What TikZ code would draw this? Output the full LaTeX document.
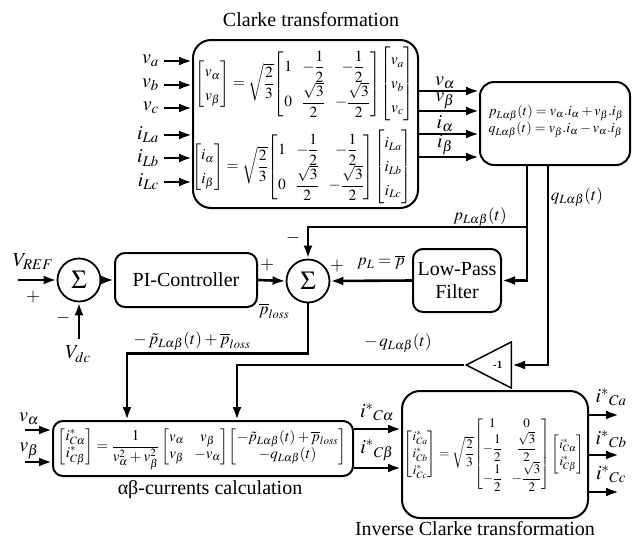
\documentclass[tikz,border=0pt]{standalone}
\usepackage{amsmath}
\usepackage{mathptmx}
\usepackage{fontspec}
\setmainfont{Liberation Serif}
\usetikzlibrary{arrows.meta,shapes.geometric}

\begin{document}
\begin{tikzpicture}[x=1pt,y=-1pt,line join=miter,
  every node/.style={font=\fontsize{20}{23}\selectfont,inner sep=1pt},
  blk/.style={draw,line width=2pt,rounded corners=18pt,inner sep=0pt},
  sumnode/.style={draw,circle,line width=1.8pt,minimum size=43pt,inner sep=0pt,font=\fontsize{26}{28}\selectfont},
  sig/.style={line width=2.6pt,-{Latex[length=13pt,width=9pt]}},
  eqn/.style={font=\fontsize{15.5}{17}\selectfont,inner sep=0pt},
  lbl/.style={font=\fontsize{17}{20}\selectfont},
  sgn/.style={font=\fontsize{18}{20}\selectfont}]
  \useasboundingbox (0,0) rectangle (632,542);

  \node[blk,minimum width=225pt,minimum height=168pt] (clarke) at (305.5,124) {};
  \node (clarketitle) at (311,20) {Clarke transformation};
  \node[eqn] (clarkev) at (305,84) {$\def\arraystretch{1.4}\begin{bmatrix} v_{\alpha}\\ v_{\beta}\end{bmatrix}=\sqrt{\dfrac{2}{3}}{\def\arraystretch{0.95}\begin{bmatrix}1 & -\dfrac{1}{2} & -\dfrac{1}{2}\\ 0 & \dfrac{\sqrt{3}}{2} & -\dfrac{\sqrt{3}}{2}\end{bmatrix}}\!\begin{bmatrix}v_a\\ v_b\\ v_c\end{bmatrix}$};
  \node[eqn] (clarkei) at (302,167) {$\def\arraystretch{1.4}\begin{bmatrix} i_{\alpha}\\ i_{\beta}\end{bmatrix}=\sqrt{\dfrac{2}{3}}{\def\arraystretch{0.95}\begin{bmatrix}1 & -\dfrac{1}{2} & -\dfrac{1}{2}\\ 0 & \dfrac{\sqrt{3}}{2} & -\dfrac{\sqrt{3}}{2}\end{bmatrix}}\!\begin{bmatrix}i_{La}\\ i_{Lb}\\ i_{Lc}\end{bmatrix}$};

  \foreach \nm/\lab/\yy in {va/v_a/61,vb/v_b/85,vc/v_c/108,ila/i_{La}/135,ilb/i_{Lb}/158,ilc/i_{Lc}/182}{
    \coordinate (\nm) at (164,\yy);
    \node[left=4pt] (\nm lbl) at (\nm) {$\lab$};
    \draw[sig] (\nm) -- (\nm -| clarke.west);
  }

  \node[blk,minimum width=150pt,minimum height=83pt,rounded corners=14pt] (power) at (555,123.5) {};
  \node[eqn,align=left,font=\fontsize{14}{16}\selectfont] (powereq) at (556,121) {$p_{L\alpha\beta}(t)=v_{\alpha}.i_{\alpha}+v_{\beta}.i_{\beta}$\\[1pt] $q_{L\alpha\beta}(t)=v_{\beta}.i_{\alpha}-v_{\alpha}.i_{\beta}$};

  \foreach \nm/\lab/\yy in {ova/v_{\alpha}/91,ovb/v_{\beta}/111,oia/i_{\alpha}/134,oib/i_{\beta}/157}{
    \coordinate (\nm) at (clarke.east |- 0,\yy);
    \draw[sig] (\nm) -- (\nm -| power.west);
    \node[anchor=south] (\nm lbl) at (445,\yy-1) {$\lab$};
  }

  \node[sumnode] (sum1) at (79,280) {$\Sigma$};
  \node[blk,minimum width=142pt,minimum height=54pt,rounded corners=10pt] (pi) at (186,280) {PI-Controller};
  \node[sumnode] (sum2) at (308,281) {$\Sigma$};
  \node[blk,minimum width=88pt,minimum height=63pt,rounded corners=10pt,align=center] (lpf) at (457,280.5) {Low-Pass\\Filter};

  \coordinate (vref) at (18,280);
  \coordinate (vdc) at (79,339);
  \draw[sig] (vref) -- (sum1.west);
  \draw[sig] (vdc) -- (sum1.south);
  \draw[sig] (sum1.east) -- (pi.west);
  \draw[sig] (pi.east) -- (sum2.west);
  \draw[sig] (lpf.west) -- (sum2.east);
  \node (vreflbl) at (33,262) {$V_{REF}$};
  \node (vdclbl) at (78,354) {$V_{dc}$};
  \node[sgn] (sum1p) at (33,297) {$+$};
  \node[sgn] (sum1m) at (63,318) {$-$};
  \node[sgn] (sum2p1) at (267,265) {$+$};
  \node[lbl] (plosslbl) at (274,311) {$\overline{p}_{loss}$};
  \node[sgn] (sum2m) at (293,238) {$-$};
  \node[sgn] (sum2p2) at (337,266) {$+$};
  \node[lbl] (pllbl) at (381,262) {$p_{L}=\overline{p}$};

  \coordinate (pout) at (power.south -| 527,0);
  \coordinate (qout) at (power.south -| 548,0);
  \coordinate (pbranch) at (527,227);
  \draw[sig] (pout) |- (lpf.east);
  \draw[sig] (pbranch) -| (sum2.north);
  \node[lbl,anchor=south] (plbl) at (480,228) {$p_{L\alpha\beta}(t)$};
  \node[lbl] (qlbl) at (577,197) {$q_{L\alpha\beta}(t)$};

  \node[draw,isosceles triangle,shape border rotate=180,isosceles triangle stretches,minimum width=46pt,minimum height=45pt,inner sep=0pt,line width=1.5pt,anchor=lower side,font=\fontsize{11}{12}\bfseries] (gain) at (512,365) {-1};
  \draw[sig] (qout) |- (gain.lower side);

  \node[blk,minimum width=300pt,minimum height=55pt,rounded corners=10pt] (ab) at (203,448.5) {};
  \node[eqn,font=\fontsize{15}{17}\selectfont] (abeq) at (202,449) {$\begin{bmatrix} i^{*}_{C\alpha}\\ i^{*}_{C\beta}\end{bmatrix}=\dfrac{1}{v_{\alpha}^{2}+v_{\beta}^{2}}\begin{bmatrix}v_{\alpha} & v_{\beta}\\ v_{\beta} & -v_{\alpha}\end{bmatrix}\!\begin{bmatrix}-\tilde{p}_{L\alpha\beta}(t)+\overline{p}_{loss}\\ -q_{L\alpha\beta}(t)\end{bmatrix}$};
  \node (abtitle) at (210,490) {αβ-currents calculation};

  \coordinate (pin) at (ab.north -| 127,0);
  \coordinate (qin) at (ab.north -| 237,0);
  \draw[sig] (sum2.south) -- ++(0,50) -| (pin);
  \node[lbl] (pinlbl) at (192,341) {$-\,\tilde{p}_{L\alpha\beta}(t)+\overline{p}_{loss}$};
  \draw[sig] (gain.apex) -| (qin);
  \node[lbl] (qinlbl) at (398,343) {$-\,q_{L\alpha\beta}(t)$};

  \coordinate (abva) at (25,430);
  \coordinate (abvb) at (25,462);
  \draw[sig] (abva) -- (abva -| ab.west);
  \draw[sig] (abvb) -- (abvb -| ab.west);
  \node (abvalbl) at (29,419) {$v_{\alpha}$};
  \node (abvblbl) at (29,451) {$v_{\beta}$};

  \node[blk,minimum width=186pt,minimum height=127pt,rounded corners=18pt] (icl) at (495,454.5) {};
  \node[eqn,font=\fontsize{13}{15}\selectfont] (icleq) at (494,454) {$\def\arraystretch{1.15}\begin{bmatrix} i^{*}_{Ca}\\ i^{*}_{Cb}\\ i^{*}_{Cc}\end{bmatrix}=\sqrt{\dfrac{2}{3}}{\def\arraystretch{1}\begin{bmatrix}1 & 0\\ -\dfrac{1}{2} & \dfrac{\sqrt{3}}{2}\\ -\dfrac{1}{2} & -\dfrac{\sqrt{3}}{2}\end{bmatrix}}\begin{bmatrix}i^{*}_{C\alpha}\\ i^{*}_{C\beta}\end{bmatrix}$};
  \node (icltitle) at (475,529) {Inverse Clarke transformation};

  \coordinate (ica) at (ab.east |- 0,429);
  \coordinate (icb) at (ab.east |- 0,468);
  \draw[sig] (ica) -- (ica -| icl.west);
  \draw[sig] (icb) -- (icb -| icl.west);
  \node (icalbl) at (377,412) {$i^{*}{}_{C\alpha}$};
  \node (icblbl) at (377,450) {$i^{*}{}_{C\beta}$};

  \foreach \nm/\lab/\yy/\ly in {oca/Ca/415/397,ocb/Cb/455/439,occ/Cc/492/474}{
    \coordinate (\nm) at (icl.east |- 0,\yy);
    \draw[sig] (\nm) -- ++(30,0);
    \node (\nm lbl) at (611,\ly) {$i^{*}{}_{\lab}$};
  }
\end{tikzpicture}
\end{document}
